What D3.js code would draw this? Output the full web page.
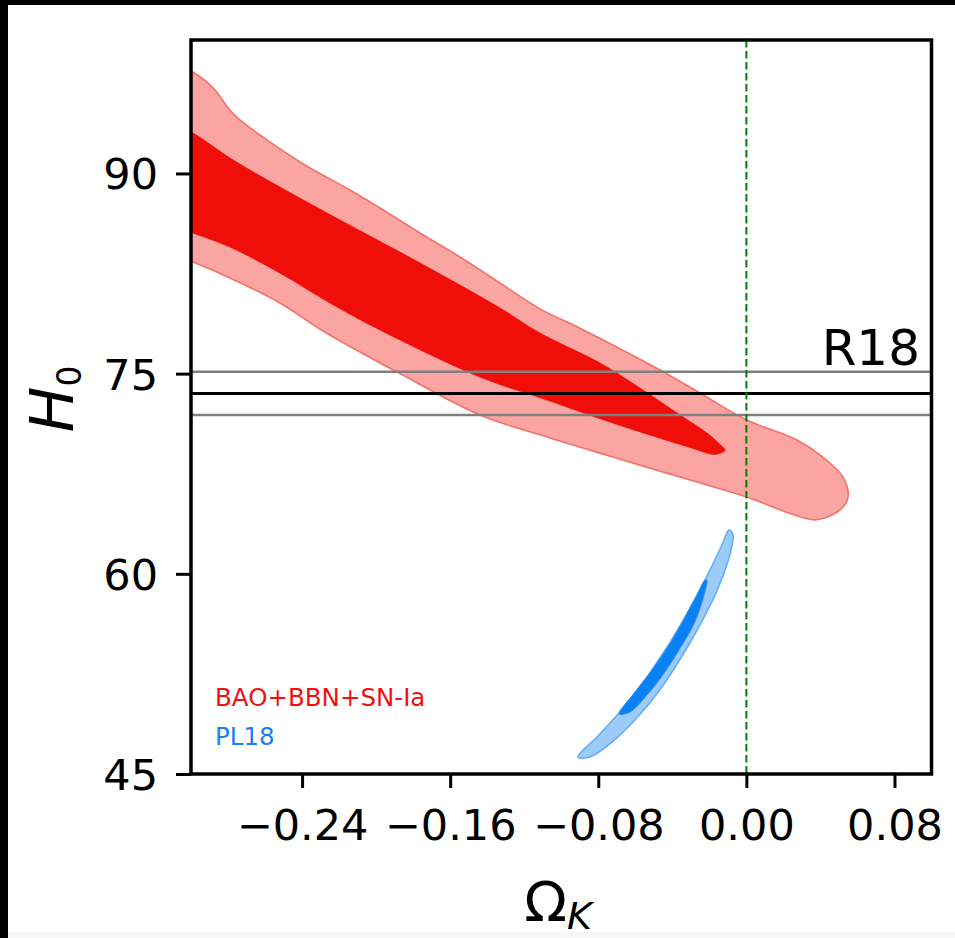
<!DOCTYPE html>
<html><head><meta charset="utf-8">
<script src="https://cdn.jsdelivr.net/npm/d3@7"></script>
<style>
html,body{margin:0;padding:0;background:#fff;}
svg{display:block;font-family:"DejaVu Sans",sans-serif;}
</style></head>
<body>
<script>
// ---- data (Omega_K, H0) ----
const xTicks = [-0.24, -0.16, -0.08, 0.00, 0.08];
const yTicks = [45, 60, 75, 90];
const xDomain = [-0.30, 0.10];
const yDomain = [45, 100];
const r18 = {mean: 73.52, lo: 71.90, hi: 75.14};
const legendLabels = ["BAO+BBN+SN-Ia", "PL18"];

// BAO+BBN+SN-Ia 2-sigma contour
const redOuter = [
 [-0.310,98.3],[-0.299,97.60],[-0.288,96.40],[-0.279,94.75],[-0.2736,94.01],[-0.2411,90.86],
 [-0.2141,88.76],[-0.1979,87.41],[-0.1763,85.54],[-0.1547,83.74],[-0.1331,81.79],[-0.1115,79.85],
 [-0.0899,78.40],[-0.0467,75.27],[-0.0251,73.55],[0.0003,71.52],[0.0273,70.03],
 [0.0413,68.75],[0.0522,67.25],[0.0549,65.75],[0.0505,64.78],[0.0381,64.05],[0.0252,64.45],
 [0.0003,65.75],[-0.0359,67.25],[-0.0721,68.75],[-0.1077,70.25],[-0.1439,71.90],[-0.1871,75.00],
 [-0.2276,78.10],[-0.2520,80.29],[-0.2790,82.17],[-0.299,83.36],[-0.310,83.9]
];
// BAO+BBN+SN-Ia 1-sigma contour
const redInner = [
 [-0.310,93.7],[-0.299,93.03],[-0.2790,91.16],[-0.2520,88.98],[-0.2195,86.51],[-0.1763,83.29],
 [-0.1331,79.92],[-0.1115,78.04],[-0.0791,75.80],[-0.0575,73.92],[-0.0359,71.90],[-0.0213,70.55],
 [-0.0140,69.65],[-0.0115,69.25],[-0.0170,68.95],[-0.0300,69.45],[-0.0721,71.30],[-0.1077,73.02],
 [-0.1439,74.75],[-0.1979,78.27],[-0.2249,80.29],[-0.2520,82.54],[-0.2790,84.49],[-0.299,85.54],[-0.310,86.1]
];
// PL18 2-sigma contour
const blueOuter = [
 [-0.0910,46.27],[-0.0807,47.77],[-0.0688,49.57],[-0.0564,51.74],[-0.0467,53.69],[-0.0375,55.71],
 [-0.0283,57.96],[-0.0197,60.28],[-0.0132,62.16],[-0.0094,63.28],[-0.0073,62.98],[-0.0083,61.78],
 [-0.0127,59.84],[-0.0197,57.59],[-0.0278,55.49],[-0.0364,53.47],[-0.0472,51.22],[-0.0597,49.12],
 [-0.0732,47.32],[-0.0845,46.27]
];
// PL18 1-sigma contour
const blueInner = [
 [-0.0688,49.49],[-0.0602,51.14],[-0.0510,52.79],[-0.0418,54.66],[-0.0332,56.76],[-0.0262,58.56],
 [-0.0224,59.53],[-0.0213,59.53],[-0.0224,58.64],[-0.0278,56.39],[-0.0354,54.51],[-0.0440,52.64],
 [-0.0532,50.99],[-0.0629,49.64]
];

// ---- layout ----
const W = 955, H = 938;
const m = {left: 191, right: 931.5, top: 40, bottom: 774};

const svg = d3.select("body").append("svg").attr("width", W).attr("height", H);
svg.append("rect").attr("width", W).attr("height", H).attr("fill", "#fff");
svg.append("rect").attr("x", 0).attr("y", 932).attr("width", W).attr("height", 6).attr("fill", "#f7f7f7");
svg.append("rect").attr("x", 0).attr("y", 0).attr("width", 8).attr("height", H).attr("fill", "#000");
svg.append("rect").attr("x", 0).attr("y", 0).attr("width", W).attr("height", 5).attr("fill", "#000");

const x = d3.scaleLinear().domain(xDomain).range([m.left, m.right]);
const y = d3.scaleLinear().domain(yDomain).range([m.bottom, m.top]);

svg.append("clipPath").attr("id", "clip").append("rect")
  .attr("x", m.left).attr("y", m.top).attr("width", m.right - m.left).attr("height", m.bottom - m.top);

const g = svg.append("g").attr("clip-path", "url(#clip)");
const line = d3.line().x(d => x(d[0])).y(d => y(d[1])).curve(d3.curveCatmullRomClosed.alpha(0.5));

g.append("path").attr("d", line(redOuter)).attr("fill", "#faa5a2").attr("stroke", "#f2726c").attr("stroke-width", 1.6);
g.append("path").attr("d", line(redInner)).attr("fill", "#f00e08").attr("stroke", "#f00e08").attr("stroke-width", 0.8);
g.append("path").attr("d", line(blueOuter)).attr("fill", "#9ccbf7").attr("stroke", "#62aff5").attr("stroke-width", 1.6);
g.append("path").attr("d", line(blueInner)).attr("fill", "#0a80f5").attr("stroke", "#3595f5").attr("stroke-width", 1);

// R18 band lines
[[r18.hi, "#808080", 2.5], [r18.lo, "#808080", 2.5], [r18.mean, "#000", 3]].forEach(([v, c, w]) => {
  g.append("line").attr("x1", m.left).attr("x2", m.right).attr("y1", y(v)).attr("y2", y(v))
    .attr("stroke", c).attr("stroke-width", w);
});
// flat universe line
g.append("line").attr("x1", x(0)).attr("x2", x(0)).attr("y1", m.top).attr("y2", m.bottom)
  .attr("stroke", "#008000").attr("stroke-width", 2).attr("stroke-dasharray", "7.5,3.5");

svg.append("text").attr("x", 920).attr("y", 365).attr("text-anchor", "end")
  .attr("font-size", 50).attr("fill", "#000").text("R18");

// axes
const xAxis = d3.axisBottom(x).tickValues(xTicks).tickSize(14).tickPadding(6)
  .tickFormat(d => d3.format(".2f")(d).replace("-", "\u2212"));
const yAxis = d3.axisLeft(y).tickValues(yTicks).tickSize(15).tickPadding(18).tickFormat(d3.format("d"));

const gx = svg.append("g").attr("transform", `translate(0,${m.bottom})`).call(xAxis);
const gy = svg.append("g").attr("transform", `translate(${m.left},0)`).call(yAxis);
[gx, gy].forEach(a => {
  a.select(".domain").remove();
  a.selectAll(".tick line").attr("stroke", "#000").attr("stroke-width", 3);
  a.selectAll(".tick text").attr("font-size", 43).attr("fill", "#000").attr("font-family", "DejaVu Sans");
});
gx.selectAll(".tick text").attr("dy", null).attr("y", 66);
gy.selectAll(".tick text").attr("dy", null).attr("y", 0).attr("dominant-baseline", null)
  .attr("transform", "translate(0,15.5)");

// frame
svg.append("rect").attr("x", m.left).attr("y", m.top).attr("width", m.right - m.left).attr("height", m.bottom - m.top)
  .attr("fill", "none").attr("stroke", "#000").attr("stroke-width", 3.5);

// legend
const legColors = ["#f21111", "#1a80f0"];
legendLabels.forEach((t, i) => {
  svg.append("text").attr("x", 215).attr("y", 706 + i * 39).attr("font-size", 24.5)
    .attr("fill", legColors[i]).text(t);
});

// axis labels
const xl = svg.append("text").attr("x", 558).attr("y", 921).attr("text-anchor", "middle").attr("font-size", 56);
xl.append("tspan").text("\u03A9");
xl.append("tspan").attr("font-size", 38).attr("font-style", "italic").attr("dy", 8).text("K");

const yl = svg.append("text").attr("transform", "translate(73,399) rotate(-90)").attr("text-anchor", "middle").attr("font-size", 61);
yl.append("tspan").attr("font-style", "italic").text("H");
yl.append("tspan").attr("font-size", 33).attr("dy", 8).text("0");
</script>
</body></html>
